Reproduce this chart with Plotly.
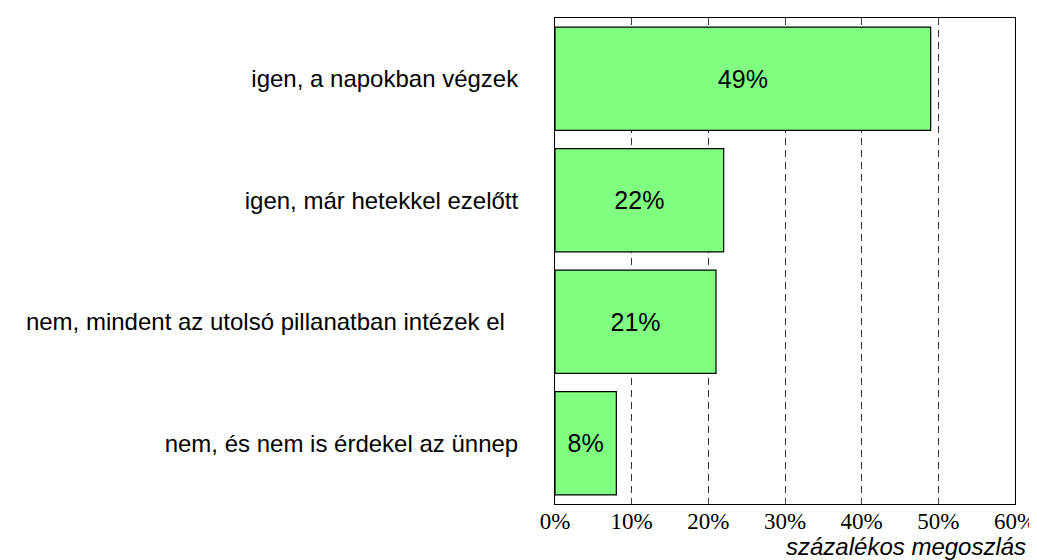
import plotly.graph_objects as go

categories = [
    "igen, a napokban végzek",
    "igen, már hetekkel ezelőtt",
    "nem, mindent az utolsó pillanatban intézek el\u00a0\u00a0",
    "nem, és nem is érdekel az ünnep",
]
values = [49, 22, 21, 8]
labels = [f"{v}%" for v in values]
tick_vals = [0, 10, 20, 30, 40, 50, 60]
tick_text = [f"{v}%" for v in tick_vals]
axis_title = "százalékos megoszlás"

fig = go.Figure()
fig.add_trace(go.Bar(
    x=values,
    y=categories,
    orientation="h",
    text=labels,
    textposition="inside",
    insidetextanchor="middle",
    textangle=0,
    constraintext="none",
    textfont=dict(family="Liberation Sans, Arial, sans-serif", size=25, color="black"),
    marker=dict(color="#80FF80", line=dict(color="black", width=1.2)),
    width=0.85,
    hoverinfo="skip",
))

fig.update_layout(
    width=1037,
    height=560,
    margin=dict(l=547, r=22, t=9, b=64),
    plot_bgcolor="white",
    paper_bgcolor="white",
    showlegend=False,
    bargap=0.15,
    xaxis=dict(
        range=[0, 60],
        tickvals=tick_vals,
        ticktext=tick_text,
        tickfont=dict(family="Liberation Serif, Times New Roman, serif", size=23, color="black"),
        ticks="inside",
        ticklen=5,
        tickcolor="#444",
        showgrid=True,
        gridcolor="#333",
        gridwidth=1,
        griddash="7px,5px",
        showline=True,
        linecolor="black",
        linewidth=1,
        mirror="ticks",
        zeroline=False,
        ticklabelstandoff=-4,
    ),
    yaxis=dict(
        categoryorder="array",
        categoryarray=categories[::-1],
        tickfont=dict(family="Liberation Sans, Arial, sans-serif", size=24, color="black"),
        ticks="",
        showgrid=False,
        showline=True,
        linecolor="black",
        linewidth=1,
        mirror=True,
        zeroline=False,
        ticklabelstandoff=31,
    ),
    annotations=[dict(
        text=axis_title,
        xref="paper", yref="paper",
        x=(1028 - 547) / 468, y=0,
        xanchor="right", yanchor="middle",
        yshift=-42,
        showarrow=False,
        font=dict(family="Liberation Sans, Arial, sans-serif", size=24, color="black", style="italic"),
    )],
)

fig.write_html("out.html")
